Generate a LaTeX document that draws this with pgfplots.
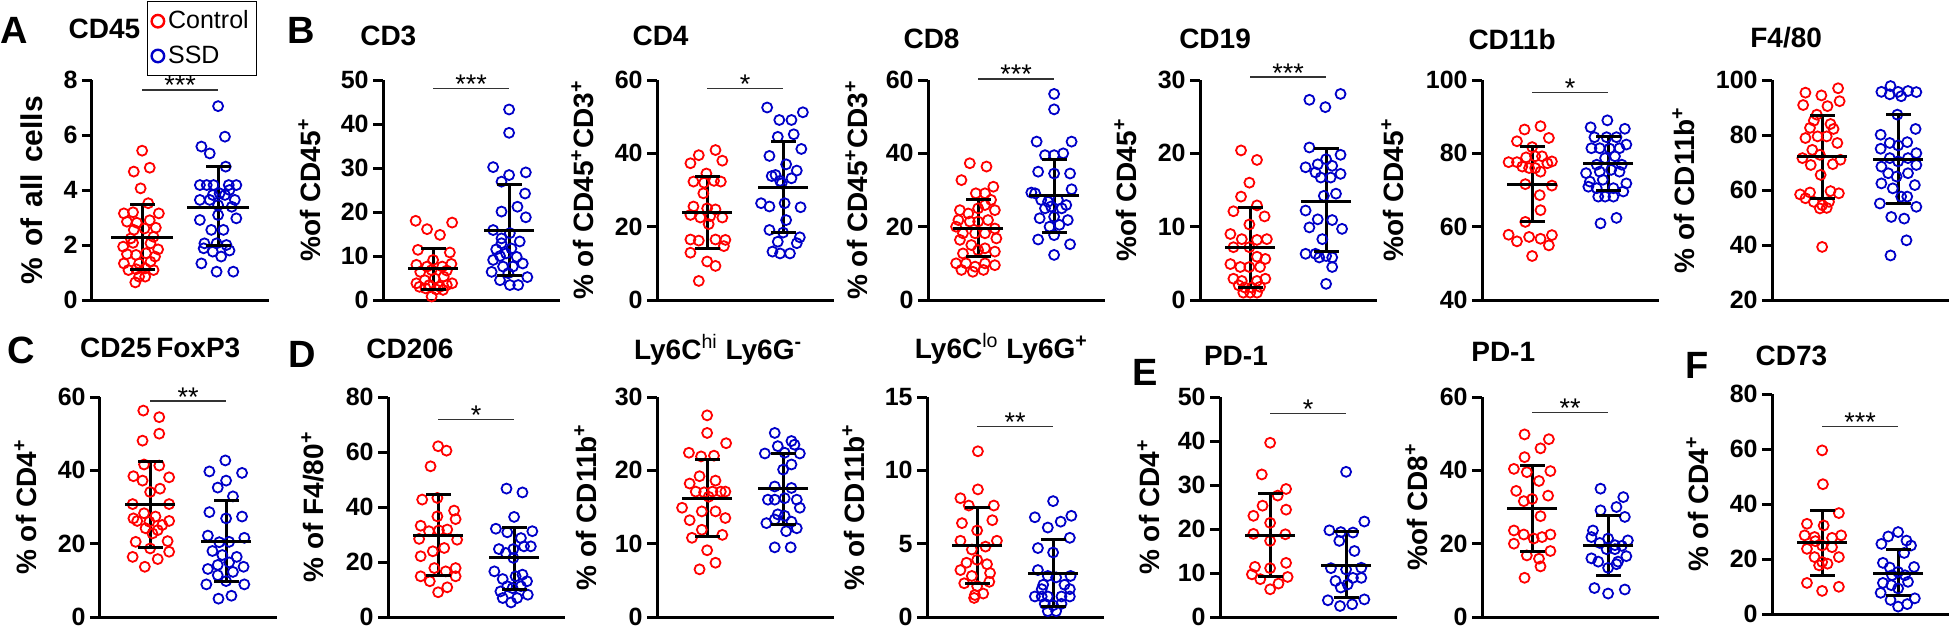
\documentclass[border=0pt]{standalone}
\usepackage{pgfplots}
\pgfplotsset{compat=1.18}
\usepackage{fontspec}
\setmainfont{Liberation Sans}
\definecolor{cred}{RGB}{255,0,0}
\definecolor{cblue}{RGB}{0,0,200}
\newcommand{\tickfont}{\fontsize{12.5}{12.5}\selectfont\bfseries}
\newcommand{\labfont}{\fontsize{14}{14}\selectfont\bfseries}
\newcommand{\letfont}{\fontsize{19}{19}\selectfont\bfseries}
\newcommand{\starfont}{\fontsize{13.5}{13.5}\selectfont}
\newcommand{\legfont}{\fontsize{12.5}{13}\selectfont}
\newcommand{\sps}[1]{\textsuperscript{#1}}

\pgfplotsset{
 panel/.style={
  scale only axis, width=88.5pt, height=110pt, anchor=south west,
  xmin=0.34, xmax=2.67,
  axis lines=left, axis line style={-, line width=1.5pt, black},
  xtick=\empty, tick align=outside, ytick pos=left,
  major tick length=5pt, tick style={black, line width=1.5pt},
  yticklabel style={font=\tickfont, inner sep=2pt},
  /pgf/number format/assume math mode=true,
  clip=false,
  label style={font=\labfont},
  title style={font=\labfont, anchor=base},
  ylabel style={anchor=mid},
 },
 ctrl/.style={only marks, mark=o, mark size=2.5pt, color=cred, mark options={line width=0.9pt}},
 ssd/.style={only marks, mark=o, mark size=2.5pt, color=cblue, mark options={line width=0.9pt}},
}
% x, mean, lo, hi, half width of mean line
\newcommand{\msd}[5]{%
 \addplot[black, line width=1.5pt, forget plot] coordinates {(#1,#3) (#1,#4)};
 \addplot[black, only marks, mark=-, mark size=6.3pt, mark options={line width=1.5pt}, forget plot] coordinates {(#1,#3) (#1,#4)};
 \addplot[black, only marks, mark=-, mark size=#5, mark options={line width=1.5pt}, forget plot] coordinates {(#1,#2)};
}
\newcommand{\sig}[2]{%
 \addplot[black!80, line width=0.6pt, forget plot] coordinates {(1,#1) (2,#1)};
 \node[font=\starfont, anchor=base, inner sep=0pt, yshift=-2.5pt] at (axis cs:1.5,#1) {#2};
}

\begin{document}
\begin{tikzpicture}
% ---------------- A: CD45
\begin{axis}[panel, at={(46pt,164.5pt)}, ymin=0, ymax=8, ytick={0,2,4,6,8},
 title={CD45}, title style={at={(axis description cs:0.07,1)}, yshift=15pt},
 ylabel={\% of all cells}, ylabel style={at={(axis description cs:-0.311,0.5)}, font={\fontsize{15}{15}\selectfont\bfseries\spaceskip=5.5pt}},
 legend style={at={(axis description cs:0.311,1.359)}, anchor=north west, draw=black, line width=0.6pt,
   font=\legfont, inner xsep=2pt, inner ysep=2.5pt, row sep=3pt},
 legend cell align=left,
 legend image code/.code={\draw[mark repeat=2,mark phase=2,#1, mark options={scale=1.25,line width=1.2pt}] plot coordinates {(0cm,0cm) (0.14cm,0cm) (0.28cm,0cm)};}]
\addplot[ctrl] coordinates {(1.00,5.43) (0.89,4.67) (1.10,4.81) (0.98,4.06) (1.08,3.52) (0.76,3.15) (0.88,3.19) (1.22,3.15) (0.80,2.85) (0.93,2.81) (1.10,2.90) (1.18,2.63) (0.89,2.55) (1.03,2.60) (0.75,1.94) (0.88,2.08) (1.11,2.06) (1.21,1.84) (0.80,1.67) (0.92,1.64) (1.05,1.70) (1.17,1.58) (0.76,1.33) (0.96,1.33) (1.11,1.39) (0.82,1.09) (0.92,1.12) (1.04,1.15) (1.15,1.09) (0.96,0.85) (1.04,0.85) (0.91,0.64) (0.85,2.24) (1.15,2.30)};
\addplot[ssd] coordinates {(2.00,7.05) (2.09,5.94) (1.78,5.58) (1.89,5.33) (2.10,4.85) (1.76,4.18) (1.85,4.18) (1.94,4.18) (2.14,4.18) (2.24,4.18) (1.76,3.64) (1.93,3.82) (2.02,3.88) (2.15,4.00) (2.09,3.82) (2.22,3.64) (1.89,3.64) (2.00,3.45) (2.18,3.39) (2.00,3.09) (1.76,2.91) (2.24,2.97) (1.91,2.55) (2.07,2.55) (1.82,2.06) (1.98,2.06) (2.11,2.00) (1.81,1.88) (1.93,1.76) (2.15,1.80) (2.04,1.58) (1.78,1.33) (1.98,1.03) (2.20,1.03)};
\legend{Control,SSD}
\msd{1}{2.28}{1.10}{3.49}{15.5pt}
\msd{2}{3.37}{1.98}{4.85}{15.5pt}
\sig{7.64}{***}
\end{axis}
% ---------------- CD3
\begin{axis}[panel, at={(191.5pt,164.5pt)}, ymin=0, ymax=50, ytick={0,10,20,30,40,50},
 title={CD3}, title style={at={(axis description cs:0.03,1)}, yshift=11.5pt},
 ylabel={\%of CD45\sps{+}}, ylabel style={at={(axis description cs:-0.384,0.5)}}]
\addplot[ctrl] coordinates {(0.77,18.0) (1.25,17.6) (0.92,16.1) (1.09,14.8) (0.80,11.4) (1.22,10.8) (1.00,9.1) (0.78,8.0) (0.92,7.6) (1.12,7.6) (1.24,8.2) (0.83,6.4) (0.98,6.8) (1.18,6.7) (0.78,3.8) (0.89,4.5) (1.02,4.9) (1.14,5.3) (1.25,3.8) (0.82,3.0) (0.95,3.4) (1.09,3.0) (1.18,3.4) (0.90,2.65) (1.04,2.4) (1.13,2.3) (0.98,0.8)};
\addplot[ssd] coordinates {(2.00,43.3) (2.00,38.0) (1.79,30.2) (2.22,29.0) (2.00,28.4) (1.90,26.9) (2.21,24.2) (1.90,20.1) (2.11,21.2) (2.22,18.8) (1.79,15.9) (1.90,14.0) (2.01,15.2) (2.14,13.3) (1.90,12.9) (2.03,11.7) (1.83,11.5) (1.96,10.6) (1.88,10.0) (1.79,9.1) (2.10,9.8) (2.18,8.3) (1.92,7.6) (2.05,7.6) (1.77,6.4) (1.88,4.5) (1.99,6.1) (2.24,5.2) (2.01,3.4) (2.12,3.4)};
\msd{1}{7.05}{2.5}{11.7}{12.5pt}
\msd{2}{15.9}{5.5}{26.3}{12.5pt}
\sig{48.1}{***}
\end{axis}
% ---------------- CD4
\begin{axis}[panel, at={(328.5pt,164.5pt)}, ymin=0, ymax=60, ytick={0,20,40,60},
 title={CD4}, title style={at={(axis description cs:0.02,1)}, yshift=11.5pt},
 ylabel={\% of CD45\sps{+}CD3\sps{+}}, ylabel style={at={(axis description cs:-0.39,0.5)}}]
\addplot[ctrl] coordinates {(1.11,40.9) (0.89,39.5) (1.20,38.0) (0.78,37.3) (0.99,34.5) (0.82,32.3) (0.96,32.0) (1.09,32.5) (1.18,32.3) (0.95,29.1) (0.82,25.5) (1.00,25.0) (1.11,24.7) (0.78,23.2) (0.91,22.5) (1.04,22.9) (1.20,22.5) (1.02,20.7) (0.78,16.5) (0.89,16.2) (1.11,16.5) (1.24,16.4) (0.78,12.9) (1.00,10.5) (1.11,9.3) (0.89,5.2) (1.22,14.7)};
\addplot[ssd] coordinates {(1.79,52.5) (2.26,51.2) (1.95,49.1) (2.11,49.1) (1.93,44.5) (2.14,45.2) (2.24,41.2) (1.82,39.3) (2.04,37.0) (1.90,34.1) (2.18,35.3) (1.96,32.5) (1.85,33.8) (2.11,33.2) (1.98,31.8) (1.71,26.4) (1.82,25.5) (2.02,26.4) (2.23,25.3) (2.04,21.8) (1.82,19.1) (2.00,18.4) (2.22,17.1) (1.93,15.9) (2.18,15.5) (1.86,13.2) (1.96,12.7) (2.09,12.7)};
\msd{1}{24.0}{14.1}{33.8}{12.5pt}
\msd{2}{30.7}{18.4}{43.2}{12.5pt}
\sig{57.7}{*}
\end{axis}
% ---------------- CD8
\begin{axis}[panel, at={(464pt,164.5pt)}, ymin=0, ymax=60, ytick={0,20,40,60},
 title={CD8}, title style={at={(axis description cs:0.02,1)}, yshift=10pt},
 ylabel={\% of CD45\sps{+}CD3\sps{+}}, ylabel style={at={(axis description cs:-0.373,0.5)}}]
\addplot[ctrl] coordinates {(0.89,37.3) (0.78,32.7) (0.97,29.1) (0.76,24.5) (0.87,23.6) (1.00,25.0) (0.74,21.8) (0.71,20.0) (0.80,18.2) (0.96,18.2) (0.76,16.4) (0.91,15.0) (1.00,13.6) (0.80,12.7) (0.71,10.0) (0.84,10.0) (0.96,9.1) (0.78,8.2) (0.93,7.7) (1.11,36.4) (1.20,30.9) (1.09,29.1) (1.17,27.3) (1.09,25.9) (1.22,24.5) (1.13,21.8) (1.22,19.5) (1.09,18.2) (1.24,16.8) (1.09,14.1) (1.22,13.2) (1.09,10.0) (1.22,9.5) (1.07,8.2) (0.89,21.4) (1.00,21.4)};
\addplot[ssd] coordinates {(2.00,56.2) (2.00,52.0) (1.77,43.2) (2.23,43.2) (1.88,39.5) (2.00,39.5) (2.12,40.0) (1.79,35.0) (2.00,34.5) (2.21,34.5) (1.75,29.1) (2.23,30.2) (1.70,29.3) (1.83,27.3) (1.92,26.8) (2.05,27.3) (2.16,25.9) (1.88,25.0) (1.96,25.5) (2.10,25.0) (1.81,22.3) (2.00,22.7) (2.18,21.8) (2.07,20.5) (1.94,20.0) (1.79,16.5) (2.00,17.7) (2.21,15.2) (2.00,12.3)};
\msd{1}{19.4}{11.8}{27.5}{12.5pt}
\msd{2}{28.5}{18.5}{38.4}{12.5pt}
\sig{60.3}{***}
\end{axis}
% ---------------- CD19
\begin{axis}[panel, at={(600pt,164.5pt)}, ymin=0, ymax=30, ytick={0,10,20,30},
 title={CD19}, title style={at={(axis description cs:0.085,1)}, yshift=10pt},
 ylabel={\%of CD45\sps{+}}, ylabel style={at={(axis description cs:-0.39,0.5)}}]
\addplot[ctrl] coordinates {(0.88,20.4) (1.09,19.1) (0.99,16.0) (0.88,14.1) (1.09,12.9) (0.78,12.1) (1.19,11.4) (0.99,10.3) (0.74,9.0) (0.89,8.3) (1.09,8.2) (1.22,8.3) (0.78,7.2) (0.99,7.2) (1.09,5.9) (1.20,5.6) (0.74,4.9) (0.87,4.5) (0.99,4.5) (1.13,4.5) (0.78,2.9) (0.89,2.6) (1.09,2.6) (1.20,2.9) (0.85,2.0) (0.93,1.7) (1.02,1.7) (1.13,1.8) (0.91,1.0) (1.00,1.0) (1.09,1.0)};
\addplot[ssd] coordinates {(1.78,27.3) (2.19,28.1) (1.99,26.3) (1.78,20.8) (2.19,19.8) (1.89,18.5) (2.00,19.2) (2.08,18.3) (1.86,17.4) (1.73,18.1) (2.19,17.2) (1.93,16.7) (2.06,16.7) (1.97,14.2) (2.13,14.5) (1.73,12.2) (1.89,11.0) (2.08,10.9) (1.78,9.9) (2.21,9.7) (1.95,8.3) (1.73,6.3) (1.86,6.3) (2.00,6.0) (1.91,5.8) (2.08,5.8) (2.08,4.5) (2.00,2.2)};
\msd{1}{7.2}{1.7}{12.6}{12.5pt}
\msd{2}{13.5}{6.6}{20.6}{12.5pt}
\sig{30.4}{***}
\end{axis}
% ---------------- CD11b
\begin{axis}[panel, at={(741pt,164.5pt)}, ymin=40, ymax=100, ytick={40,60,80,100},
 title={CD11b}, title style={at={(axis description cs:0.17,1)}, yshift=9.5pt},
 ylabel={\%of CD45\sps{+}}, ylabel style={at={(axis description cs:-0.475,0.5)}}]
\addplot[ctrl] coordinates {(1.11,87.4) (0.90,86.5) (1.22,84.2) (0.80,83.3) (1.00,81.7) (0.92,78.9) (0.80,77.6) (0.69,77.6) (1.04,79.2) (1.13,79.2) (1.26,77.8) (1.20,77.3) (0.87,76.4) (0.96,76.0) (1.04,76.0) (1.11,75.0) (0.91,71.6) (1.26,71.2) (1.10,68.6) (1.11,64.5) (0.91,61.3) (0.69,57.8) (0.80,56.0) (0.96,57.2) (1.11,56.7) (1.26,57.7) (1.22,54.9) (1.00,52.0)};
\addplot[ssd] coordinates {(1.99,89.0) (1.77,87.1) (2.22,86.7) (1.82,84.4) (1.98,84.4) (2.11,84.4) (1.78,81.4) (1.89,81.4) (2.02,81.3) (2.15,81.4) (2.24,82.4) (2.09,79.2) (1.96,78.7) (1.85,76.9) (2.18,76.9) (1.71,74.6) (1.89,75.0) (2.04,75.5) (2.15,75.0) (1.76,72.3) (1.93,72.8) (2.24,71.8) (1.74,70.9) (1.85,70.5) (2.07,70.5) (2.20,69.6) (1.87,68.2) (1.96,68.2) (2.07,68.2) (1.90,60.9) (2.11,62.4)};
\msd{1}{71.6}{61.3}{81.9}{12.5pt}
\msd{2}{77.1}{70.0}{84.6}{12.5pt}
\sig{96.5}{*}
\end{axis}
% ---------------- F4/80
\begin{axis}[panel, at={(886pt,164.5pt)}, ymin=20, ymax=100, ytick={20,40,60,80,100},
 title={F4/80}, title style={at={(axis description cs:0.08,1)}, yshift=10.5pt},
 ylabel={\% of CD11b\sps{+}}, ylabel style={at={(axis description cs:-0.469,0.5)}}]
\addplot[ctrl] coordinates {(1.21,97.0) (0.78,95.4) (0.99,94.4) (1.23,92.3) (0.75,90.9) (1.07,90.5) (0.93,87.4) (0.89,85.2) (1.11,84.0) (0.84,82.6) (1.15,82.2) (0.78,78.9) (0.94,79.5) (1.06,79.5) (1.20,77.1) (0.87,74.6) (0.74,71.6) (0.97,72.8) (1.24,71.0) (0.85,69.1) (1.14,69.4) (0.98,65.5) (0.71,58.4) (0.84,59.1) (1.11,59.6) (1.22,58.8) (0.78,57.0) (0.89,55.7) (1.00,54.5) (1.09,55.7) (0.97,53.3) (1.06,53.5) (1.00,39.3)};
\addplot[ssd] coordinates {(1.90,97.8) (1.78,95.7) (2.00,95.7) (2.13,96.0) (2.24,95.6) (1.89,94.8) (2.04,94.1) (1.99,87.4) (1.77,80.1) (2.23,82.2) (1.89,77.1) (2.12,77.4) (1.77,75.0) (2.00,76.2) (2.24,73.4) (1.89,71.6) (2.13,71.6) (1.78,68.5) (2.00,70.4) (2.24,69.1) (1.87,66.1) (1.98,64.9) (2.13,66.1) (1.78,62.4) (2.22,61.8) (1.93,60.6) (2.04,57.6) (2.12,57.6) (1.76,55.1) (2.24,53.9) (1.91,50.2) (2.08,49.6) (2.11,41.7) (1.90,36.2)};
\msd{1}{72.1}{57.0}{87.1}{12.5pt}
\msd{2}{71.2}{55.1}{87.4}{12.5pt}
\end{axis}
% ---------------- C: CD25 FoxP3
\begin{axis}[panel, at={(50pt,6pt)}, ymin=0, ymax=60, ytick={0,20,40,60},
 title={CD25\,FoxP3}, title style={at={(axis description cs:0.34,1)}, yshift=14pt},
 ylabel={\% of CD4\sps{+}}, ylabel style={at={(axis description cs:-0.39,0.5)}}]
\addplot[ctrl] coordinates {(0.91,56.3) (1.12,54.5) (1.12,50.0) (0.90,48.1) (0.92,41.6) (1.12,41.3) (0.78,38.4) (1.25,38.1) (0.90,37.2) (1.13,35.0) (1.00,34.1) (0.77,30.8) (1.25,30.8) (0.78,26.9) (0.92,28.3) (1.07,27.4) (0.83,26.2) (0.99,26.0) (1.25,26.2) (1.16,25.1) (0.94,24.2) (1.03,22.8) (1.10,23.7) (0.81,20.5) (1.23,20.7) (1.00,18.7) (1.25,17.8) (0.77,16.4) (1.10,15.8) (0.93,13.7)};
\addplot[ssd] coordinates {(1.99,42.7) (1.78,39.7) (2.21,39.3) (2.00,37.2) (1.89,35.3) (2.09,32.9) (1.78,28.6) (2.00,26.9) (2.21,27.4) (1.76,22.2) (1.91,20.4) (2.04,20.5) (2.24,21.6) (1.82,18.0) (1.95,16.9) (2.14,16.4) (2.04,14.9) (1.76,13.1) (1.89,14.2) (2.09,12.3) (2.23,13.7) (1.89,11.4) (2.00,9.8) (1.74,8.9) (2.24,8.9) (2.07,5.8) (1.90,5.0)};
\msd{1}{30.8}{18.9}{42.5}{12.5pt}
\msd{2}{20.7}{9.6}{31.7}{12.5pt}
\sig{58.9}{**}
\end{axis}
% ---------------- CD206
\begin{axis}[panel, at={(194pt,6pt)}, ymin=0, ymax=80, ytick={0,20,40,60,80},
 title={CD206}, title style={at={(axis description cs:0.124,1)}, yshift=13.5pt},
 ylabel={\% of F4/80\sps{+}}, ylabel style={at={(axis description cs:-0.395,0.5)}}]
\addplot[ctrl] coordinates {(1.00,62.1) (1.11,60.5) (0.90,54.8) (0.79,42.7) (0.99,43.3) (1.21,38.7) (1.23,35.6) (0.77,33.2) (0.99,36.6) (0.88,31.2) (1.01,31.5) (1.12,31.8) (1.25,28.1) (0.75,28.4) (0.93,23.9) (1.08,25.1) (0.77,22.1) (0.95,17.8) (1.10,16.6) (1.23,17.8) (0.77,14.8) (0.89,13.0) (1.23,14.8) (1.12,10.8) (1.00,9.0)};
\addplot[ssd] coordinates {(1.90,46.7) (2.11,45.3) (2.00,36.4) (1.76,32.1) (2.24,31.2) (1.91,30.8) (2.09,28.7) (2.13,25.7) (1.80,24.7) (1.99,24.7) (2.22,25.7) (1.89,23.3) (1.99,21.5) (1.74,16.6) (2.11,15.4) (1.85,13.8) (2.02,14.8) (2.17,13.0) (1.91,11.2) (2.09,11.2) (1.82,9.3) (1.98,10.5) (2.18,8.1) (1.85,6.9) (2.04,6.9) (1.96,5.3)};
\msd{1}{29.8}{15.0}{44.7}{12.5pt}
\msd{2}{21.5}{9.9}{32.7}{12.5pt}
\sig{71.8}{*}
\end{axis}
% ---------------- Ly6Chi Ly6G-
\begin{axis}[panel, at={(328.5pt,6pt)}, ymin=0, ymax=30, ytick={0,10,20,30},
 title={Ly6C\sps{\mdseries hi} Ly6G\sps{-}}, title style={at={(axis description cs:0.345,1)}, yshift=13pt},
 ylabel={\% of CD11b\sps{+}}, ylabel style={at={(axis description cs:-0.373,0.5)}}]
\addplot[ctrl] coordinates {(1.00,27.5) (1.00,25.1) (1.25,23.7) (0.76,22.4) (0.92,21.9) (1.09,22.0) (0.90,19.2) (0.77,18.2) (1.11,18.6) (0.85,17.1) (0.96,17.0) (1.07,17.1) (1.18,17.1) (1.24,17.1) (1.02,16.4) (0.67,14.9) (0.93,14.4) (1.11,14.4) (0.77,13.2) (1.24,13.5) (0.93,11.9) (1.20,11.2) (0.80,10.8) (1.00,9.1) (1.11,7.4) (0.90,6.5)};
\addplot[ssd] coordinates {(1.89,25.1) (2.11,24.0) (1.93,23.3) (2.15,23.5) (1.76,22.3) (2.02,22.4) (2.22,22.3) (2.11,20.8) (2.00,20.1) (1.89,17.8) (2.11,17.6) (1.80,16.0) (1.89,16.0) (2.02,16.2) (2.18,16.0) (2.22,14.9) (1.93,14.0) (2.02,13.8) (1.78,12.8) (1.89,13.3) (2.11,13.0) (2.18,12.1) (2.04,11.7) (1.89,9.5) (2.10,9.5)};
\msd{1}{16.2}{11.0}{21.5}{12.5pt}
\msd{2}{17.5}{12.6}{22.3}{12.5pt}
\end{axis}
% ---------------- Ly6Clo Ly6G+
\begin{axis}[panel, at={(463.5pt,6pt)}, ymin=0, ymax=15, ytick={0,5,10,15},
 title={Ly6C\sps{\mdseries lo} Ly6G\sps{+}}, title style={at={(axis description cs:0.42,1)}, yshift=13.5pt},
 ylabel={\% of CD11b\sps{+}}, ylabel style={at={(axis description cs:-0.384,0.5)}}]
\addplot[ctrl] coordinates {(1.01,11.3) (1.01,8.7) (0.78,8.1) (0.89,7.6) (1.22,7.6) (0.80,6.4) (1.00,5.9) (1.20,6.6) (0.78,5.2) (1.26,5.2) (0.93,4.6) (1.11,4.8) (0.86,3.7) (1.00,3.9) (1.13,3.6) (0.78,3.2) (1.17,3.0) (0.93,2.8) (0.83,2.3) (1.00,2.1) (1.16,2.4) (0.97,1.5) (1.08,1.6) (0.96,1.3)};
\addplot[ssd] coordinates {(2.00,7.9) (1.76,6.8) (2.24,6.9) (2.10,6.5) (1.93,6.1) (2.22,5.4) (1.80,4.7) (2.00,4.4) (1.80,3.2) (1.93,2.8) (2.04,2.7) (2.23,2.8) (1.87,2.2) (2.15,2.2) (1.76,1.4) (1.85,1.4) (1.93,1.4) (2.11,1.4) (2.22,1.4) (2.00,0.8) (1.93,0.4) (2.04,0.4) (1.89,0.9) (2.11,0.9) (1.85,1.9) (2.22,1.9)};
\msd{1}{4.9}{2.3}{7.5}{12.5pt}
\msd{2}{3.0}{0.7}{5.3}{12.5pt}
\sig{13.0}{**}
\end{axis}
% ---------------- E: PD-1 (CD4)
\begin{axis}[panel, at={(610pt,6pt)}, ymin=0, ymax=50, ytick={0,10,20,30,40,50},
 title={PD-1}, title style={at={(axis description cs:0.09,1)}, yshift=10pt},
 ylabel={\% of CD4\sps{+}}, ylabel style={at={(axis description cs:-0.373,0.5)}}]
\addplot[ctrl] coordinates {(1.00,39.6) (0.89,32.4) (1.21,29.1) (1.10,27.6) (0.90,25.3) (0.78,23.0) (1.21,24.4) (1.00,21.4) (0.78,18.9) (1.20,18.8) (1.00,17.3) (0.80,11.4) (1.00,11.1) (1.21,12.3) (0.76,9.7) (0.87,8.6) (1.23,9.1) (1.11,7.6) (1.00,6.3)};
\addplot[ssd] coordinates {(2.00,33.0) (1.78,19.7) (2.24,21.7) (1.93,19.3) (2.09,19.2) (1.91,17.3) (2.11,15.0) (1.80,11.1) (2.00,10.8) (2.20,11.2) (1.86,8.2) (2.09,8.9) (2.20,8.9) (1.93,6.7) (2.02,7.4) (1.76,3.8) (2.24,4.0) (1.92,2.5) (2.08,2.9)};
\msd{1}{18.6}{9.2}{28.1}{12.5pt}
\msd{2}{11.7}{4.4}{19.5}{12.5pt}
\sig{46.2}{*}
\end{axis}
% ---------------- PD-1 (CD8)
\begin{axis}[panel, at={(741pt,6pt)}, ymin=0, ymax=60, ytick={0,20,40,60},
 title={PD-1}, title style={at={(axis description cs:0.12,1)}, yshift=12pt},
 ylabel={\%of CD8\sps{+}}, ylabel style={at={(axis description cs:-0.339,0.5)}}]
\addplot[ctrl] coordinates {(0.90,49.8) (1.22,48.5) (1.11,46.0) (0.90,43.6) (0.76,40.4) (0.93,39.5) (1.24,39.8) (1.09,37.1) (0.79,34.4) (1.21,33.1) (1.00,32.2) (0.89,31.6) (1.11,27.5) (0.76,23.6) (0.89,22.5) (1.02,21.4) (1.13,21.8) (1.24,22.5) (0.76,20.0) (0.93,16.8) (1.24,18.0) (1.09,15.9) (1.11,13.8) (0.90,10.7)};
\addplot[ssd] coordinates {(1.90,35.0) (2.20,32.7) (2.11,30.0) (1.90,29.1) (2.22,27.3) (1.80,23.6) (2.00,21.4) (1.78,21.8) (1.89,20.2) (2.09,19.6) (2.26,20.9) (1.98,18.5) (2.09,18.5) (1.78,16.0) (1.87,15.1) (2.00,13.4) (2.11,14.4) (2.24,16.6) (1.82,7.9) (2.00,6.4) (2.22,7.5) (2.18,19.4) (2.13,15.1)};
\msd{1}{29.5}{18.0}{41.2}{12.5pt}
\msd{2}{19.5}{11.4}{27.8}{12.5pt}
\sig{55.7}{**}
\end{axis}
% ---------------- F: CD73
\begin{axis}[panel, at={(886pt,7.5pt)}, ymin=0, ymax=80, ytick={0,20,40,60,80},
 title={CD73}, title style={at={(axis description cs:0.11,1)}, yshift=8.5pt},
 ylabel={\% of CD4\sps{+}}, ylabel style={at={(axis description cs:-0.39,0.5)}}]
\addplot[ctrl] coordinates {(1.00,59.5) (1.01,47.2) (1.22,36.7) (0.80,32.8) (1.02,32.2) (0.77,28.6) (0.90,28.0) (1.13,27.7) (1.25,28.6) (1.00,24.9) (0.80,23.7) (1.13,24.3) (0.90,20.7) (1.22,20.7) (1.00,18.9) (1.07,18.3) (0.96,17.7) (0.80,11.3) (1.22,9.9) (1.00,8.4) (0.91,26.5)};
\addplot[ssd] coordinates {(2.00,29.8) (1.87,28.2) (2.11,26.7) (1.78,25.5) (2.17,24.9) (2.08,22.2) (1.80,18.6) (1.89,16.9) (2.00,15.3) (2.21,17.1) (1.92,14.1) (2.09,14.1) (1.80,11.3) (1.91,10.5) (2.13,11.7) (2.00,9.3) (1.77,7.7) (1.90,5.1) (2.22,5.7) (2.12,3.6) (2.00,2.7)};
\msd{1}{25.9}{14.1}{37.8}{12.5pt}
\msd{2}{14.9}{6.9}{23.4}{12.5pt}
\sig{68.3}{***}
\end{axis}
% ---------------- panel letters
\node[font=\letfont, anchor=base west, inner sep=0pt] at (0pt,293pt) {A};
\node[font=\letfont, anchor=base west, inner sep=0pt] at (143.5pt,293pt) {B};
\node[font=\letfont, anchor=base west, inner sep=0pt] at (3.5pt,133pt) {C};
\node[font=\letfont, anchor=base west, inner sep=0pt] at (144pt,131pt) {D};
\node[font=\letfont, anchor=base west, inner sep=0pt] at (566pt,122pt) {E};
\node[font=\letfont, anchor=base west, inner sep=0pt] at (842.5pt,125.5pt) {F};
\pgfresetboundingbox
\useasboundingbox (0pt,0pt) rectangle (975pt,314.5pt);
\end{tikzpicture}
\end{document}
